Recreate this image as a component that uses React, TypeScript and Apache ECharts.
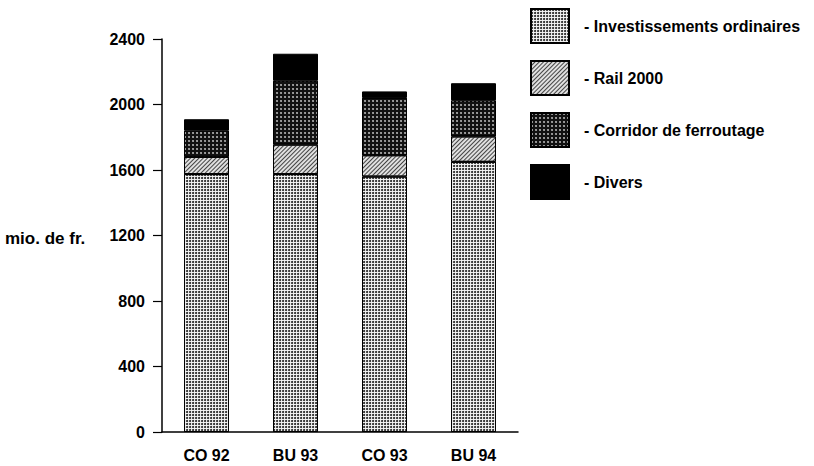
import React, { useEffect, useRef } from "react";
import * as echarts from "echarts";

const categories = ["CO 92", "BU 93", "CO 93", "BU 94"];
const seriesNames = ["Investissements ordinaires", "Rail 2000", "Corridor de ferroutage", "Divers"];
const investissements = [1575, 1575, 1560, 1650];
const rail2000 = [105, 180, 130, 155];
const corridor = [160, 390, 350, 220];
const divers = [70, 165, 40, 105];
const yTicks = [0, 400, 800, 1200, 1600, 2000, 2400];
const yAxisTitle = "mio. de fr.";

export default function App() {
  const ref = useRef<HTMLDivElement>(null);
  useEffect(() => {
    if (!ref.current) return;
    const chart = echarts.init(ref.current, null, { renderer: "svg" });
    const font = "'Liberation Sans', Arial, Helvetica, sans-serif";
    const styles = [
      {
        color: "#f4f4f4",
        decal: { symbol: "circle", symbolSize: 1, color: "#222", dashArrayX: [2, 1], dashArrayY: [2, 1] },
      },
      {
        color: "#e0e0e0",
        decal: { symbol: "rect", symbolSize: 1, color: "#444", dashArrayX: [1, 0], dashArrayY: [1, 2], rotation: -Math.PI / 4 },
      },
      {
        color: "#111",
        decal: { symbol: "circle", symbolSize: 0.8, color: "#ddd", dashArrayX: [1.5, 1.5], dashArrayY: [1.5, 1.5] },
      },
      { color: "#000" },
    ];
    const data = [investissements, rail2000, corridor, divers];
    chart.setOption({
      animation: false,
      backgroundColor: "#fff",
      textStyle: { fontFamily: font },
      grid: { left: 162, right: 296, top: 39, bottom: 34, containLabel: false },
      legend: {
        orient: "vertical",
        left: 525,
        top: 3,
        itemWidth: 38,
        itemHeight: 34,
        itemGap: 16,
        icon: "rect",
        data: seriesNames,
        formatter: (n: string) => "- " + n,
        textStyle: { fontSize: 16, fontWeight: "bold", color: "#000", fontFamily: font, padding: [0, 0, 0, 10] },
        selectedMode: false,
      },
      xAxis: {
        type: "category",
        data: categories,
        axisLine: { lineStyle: { color: "#000", width: 1.5 } },
        axisTick: { alignWithLabel: true, length: 6, lineStyle: { color: "#000", width: 1.2 } },
        axisLabel: { color: "#000", fontSize: 16, fontWeight: "bold", margin: 15, fontFamily: font },
      },
      yAxis: {
        type: "value",
        min: yTicks[0],
        max: yTicks[yTicks.length - 1],
        interval: 400,
        axisLine: { show: true, lineStyle: { color: "#000", width: 1.5 } },
        axisTick: { show: true, length: 9, lineStyle: { color: "#000", width: 1.2 } },
        splitLine: { show: false },
        axisLabel: {
          color: "#000",
          fontSize: 16,
          fontWeight: "bold",
          margin: 17,
          fontFamily: font,
          formatter: (v: number) => String(v),
        },
      },
      graphic: [
        {
          type: "text",
          x: 5,
          y: 238,
          style: {
            text: yAxisTitle,
            fontSize: 17,
            fontWeight: "bold",
            fill: "#000",
            fontFamily: font,
            verticalAlign: "middle",
          },
        },
      ],
      series: seriesNames.map((name, i) => ({
        name,
        type: "bar",
        stack: "total",
        barWidth: 45,
        data: data[i],
        itemStyle: { ...styles[i], borderColor: "#000", borderWidth: 1 },
      })),
    });
    return () => chart.dispose();
  }, []);
  return <div ref={ref} style={{ position: "fixed", left: 0, top: 0, width: 814, height: 466 }} />;
}
